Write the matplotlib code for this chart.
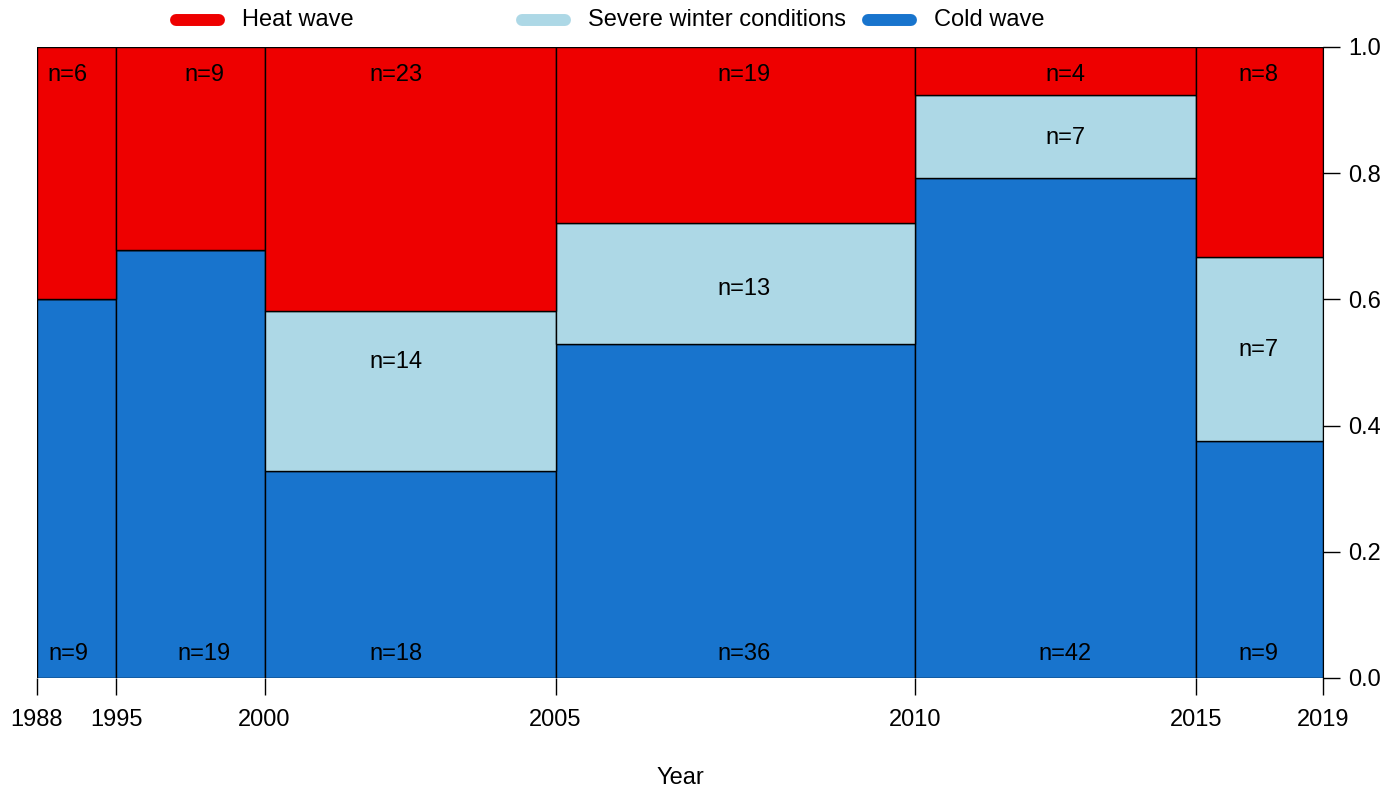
import numpy as np
import matplotlib.pyplot as plt
from matplotlib.lines import Line2D

plt.rcParams['font.family'] = ['Liberation Sans', 'DejaVu Sans']

# counts per period (from the n= labels)
breaks = [1988, 1995, 2000, 2005, 2010, 2015, 2019]
cold_wave = [9, 19, 18, 36, 42, 9]
severe_winter = [0, 0, 14, 13, 7, 7]
heat_wave = [6, 9, 23, 19, 4, 8]
# where the labels sit in the reference (not exactly at bin centres)
label_x = [0.0241, 0.1299, 0.2792, 0.5498, 0.7994, 0.9495]
severe_label_y = [None, None, 0.5, 0.617, 0.855, 0.52]

categories = ['Cold wave', 'Severe winter conditions', 'Heat wave']
colors = ['#1874CD', '#ADD8E6', '#EE0000']

counts = np.array([cold_wave, severe_winter, heat_wave], dtype=float)
totals = counts.sum(axis=0)
props = counts / totals
edges = np.concatenate([[0], np.cumsum(totals)]) / totals.sum()
widths = np.diff(edges)

fs = 17
fig = plt.figure(figsize=(14, 7.88), dpi=100)
ax = fig.add_axes([0.0264, 0.1396, 0.9186, 0.8008])

bottom = np.zeros(len(totals))
for k in range(3):
    ax.bar(edges[:-1], props[k], width=widths, bottom=bottom, align='edge',
           color=colors[k], edgecolor='black', linewidth=1)
    bottom += props[k]

# n= labels: cold at bottom, heat at top, severe in the middle band
for i in range(len(totals)):
    xc = label_x[i]
    ax.text(xc, 0.038, f'n={int(counts[0, i])}', ha='center', va='center', fontsize=fs)
    ax.text(xc, 0.955, f'n={int(counts[2, i])}', ha='center', va='center', fontsize=fs)
    if counts[1, i] > 0:
        ax.text(xc, severe_label_y[i], f'n={int(counts[1, i])}', ha='center', va='center', fontsize=fs)

ax.set_xlim(0, 1)
ax.set_ylim(0, 1)
ax.set_xticks(edges)
ax.set_xticklabels([str(b) for b in breaks], fontsize=fs)
ax.yaxis.tick_right()
ax.set_yticks(np.arange(0, 1.01, 0.2))
ax.set_yticklabels([f'{v:.1f}' for v in np.arange(0, 1.01, 0.2)], fontsize=fs)
ax.tick_params(axis='x', length=12, width=1, pad=10)
ax.tick_params(axis='y', length=12, width=1, pad=6)
ax.spines['top'].set_visible(False)
ax.spines['left'].set_visible(False)
ax.spines['bottom'].set_visible(False)
fig.text(0.4857, 0.013, 'Year', ha='center', va='center', fontsize=fs)

# legend across the top
leg_items = [('Heat wave', '#EE0000', 0.1257), ('Severe winter conditions', '#ADD8E6', 0.3729),
             ('Cold wave', '#1874CD', 0.62)]
for label, col, x0 in leg_items:
    fig.add_artist(Line2D([x0, x0 + 0.0307], [0.9746, 0.9746], transform=fig.transFigure,
                          color=col, linewidth=8.6, solid_capstyle='round'))
    fig.text(x0 + 0.0472, 0.9746, label, ha='left', va='center', fontsize=fs)

fig.savefig('out.png', dpi=100)
